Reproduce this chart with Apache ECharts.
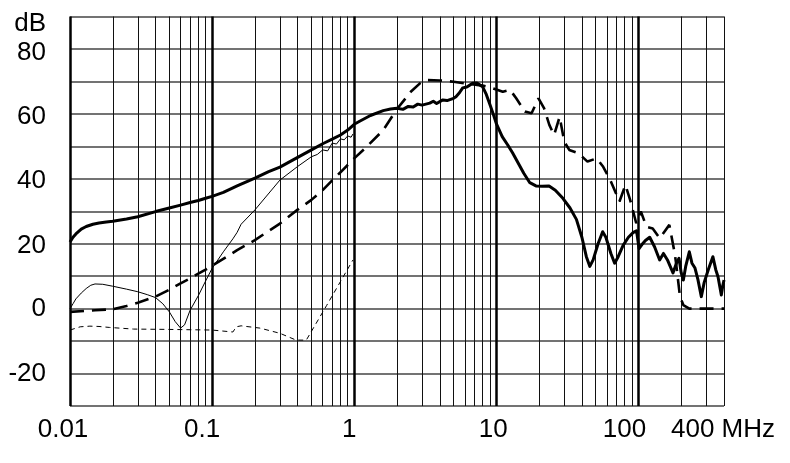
<!DOCTYPE html>
<html><head><meta charset="utf-8">
<script src="https://cdn.jsdelivr.net/npm/echarts@6/dist/echarts.min.js"></script>
<style>html,body{margin:0;padding:0;background:#fff}#c{width:790px;height:463px}</style>
</head><body><div id="c"></div>
<script>
// axis ranges (MHz, dB)
const xMin = 0.01, xMax = 400;
const yMin = -30, yMax = 90, yStep = 10;
const yLabelValues = [-20, 0, 20, 40, 60, 80];
const yUnitLabel = 'dB';
const xTickValues = [0.01, 0.1, 1, 10, 100, 400];
const xTickLabels = ['0.01', '0.1', '1', '10', '100', '400 MHz'];

// vertical grid positions (MHz)
const decadeLines = [0.01, 0.1, 1, 10, 100];
const minorLines = [0.02,0.03,0.04,0.05,0.06,0.07,0.08,0.09,
  0.2,0.3,0.4,0.5,0.6,0.7,0.8,0.9,
  2,3,4,5,6,7,8,9,
  20,30,40,50,60,70,80,90,
  200,300,400];

// thick solid curve [MHz, dB]
const thickSolid = [[0.01,20.5],[0.0105,22],[0.011,23],[0.012,24.5],[0.013,25.3],[0.0145,26],[0.016,26.4],[0.018,26.7],[0.02,26.9],[0.025,27.6],[0.03,28.3],[0.04,29.9],[0.05,31],[0.06,31.9],[0.07,32.7],[0.08,33.3],[0.09,34],[0.1,34.6],[0.12,35.8],[0.15,37.8],[0.2,40.2],[0.25,42.2],[0.3,43.6],[0.4,46.6],[0.5,48.9],[0.6,50.8],[0.7,52.2],[0.8,53.5],[0.9,55],[1.0,56.8],[1.1,57.8],[1.3,59.5],[1.6,61],[1.8,61.5],[2.0,61.7],[2.2,61.4],[2.4,62.3],[2.6,62.1],[2.8,63],[3.0,62.7],[3.4,63.3],[3.6,63.9],[3.8,63.2],[4.2,64.3],[4.5,64.1],[5.0,64.8],[5.2,65.3],[5.5,66.5],[5.8,68],[6.2,68.3],[6.8,69.4],[7.3,69.5],[8,68.4],[8.5,66],[9,63],[9.5,60],[10,57],[11,53],[12,50.5],[13,48],[15.6,41.7],[17.2,38.8],[19,37.8],[21,37.7],[23.5,37.8],[26,36.5],[29.4,34],[33,31],[36.6,27.5],[40,22],[43,16],[45.5,13],[48,15],[52,20],[56,23.7],[59,22],[64,17],[68,14],[72,16],[78,19.5],[85,22],[92,23.5],[97,24],[101,18.5],[107,20],[112,21],[120,22],[130,19],[141,15],[150,17],[160,15],[175,11],[185,14],[193,15.5],[200,11],[207,8.8],[215,13],[228,17.5],[238,14],[250,12.5],[262,9],[277,3.7],[290,8],[310,12],[334,16],[350,12],[363,9.8],[383,4.2],[392,7],[400,8.8]];

// thick dashed curve
const thickDashed = [[0.01,-1],[0.015,-0.5],[0.02,-0.2],[0.025,0.8],[0.03,1.8],[0.04,3.7],[0.05,5.8],[0.06,7.8],[0.07,9.3],[0.08,10.8],[0.09,12],[0.1,13.2],[0.15,18],[0.2,21.1],[0.3,26.2],[0.4,30.5],[0.5,33.5],[0.6,36.5],[0.7,39.5],[0.8,42],[1.0,46.3],[1.2,49.5],[1.6,55],[2.0,61.5],[2.5,66.8],[2.9,69.4],[3.2,70.4],[4,70.3],[5,69.9],[6.5,69.2],[8,68.7],[9,68.2],[10,67.5],[11.1,66.8],[12.5,67.4],[13.8,64.8],[15.9,60.7],[17.7,60.2],[19.8,64.8],[21.7,61.7],[23.6,56.6],[25.5,53.5],[27.9,59.1],[30.1,51.4],[32.6,48.9],[37.8,47.9],[43.8,45.3],[50.8,46.3],[56.5,43.7],[63.4,39.6],[73.5,33],[81,38.1],[87.4,33.5],[96.5,26.3],[104,29.9],[114,25.2],[126,24.7],[141,21.7],[165,25.8],[180,17],[184,14],[196,3.7],[207,1.1],[228,0],[400,0]];

// thin solid curve
const thinSolid = [[0.01,0],[0.0105,1.5],[0.011,3],[0.012,4.8],[0.013,6.2],[0.014,7.2],[0.015,7.6],[0.017,7.5],[0.02,6.9],[0.025,6],[0.03,5.2],[0.035,4.3],[0.04,3.4],[0.045,1.5],[0.05,-1],[0.055,-4],[0.06,-6],[0.064,-5],[0.07,-0.5],[0.08,4],[0.09,8.5],[0.1,12.4],[0.12,17.5],[0.14,21.5],[0.15,23.5],[0.16,26],[0.2,30.4],[0.3,39.6],[0.4,43.8],[0.5,46.8],[0.55,47.5],[0.6,48.9],[0.65,48.6],[0.7,51],[0.75,50.7],[0.8,52.3],[0.85,52],[0.9,53.2],[0.95,52.8],[0.98,53.8]];

// thin dashed curve
const thinDashed = [[0.01,-6.6],[0.0118,-5.6],[0.0138,-5.4],[0.016,-5.5],[0.019,-5.8],[0.028,-6.3],[0.048,-6.4],[0.1,-6.6],[0.14,-7.2],[0.148,-5.6],[0.16,-5.3],[0.217,-6],[0.3,-7.6],[0.39,-9.7],[0.46,-9.7],[0.64,1],[0.98,15]];

const font = '"Liberation Sans", Arial, sans-serif';
const fs = 26;
// small horizontal nudges of x tick labels (px to the left), as in the original artwork
const xNudge = [7, 10, 5, 3, 14, 1];
const xRich = {};
xNudge.forEach((s, i) => { xRich['x' + i] = {padding: [0, 2 * s, 0, 0], fontSize: fs, fontFamily: font, color: '#000'}; });
// vertical nudges of y labels (px downward)
const yNudgeVals = [90, 80, 60, 40, 20, 0, -20];
const yNudge = [7, 4, 3, 2, 2, 0, 0];
const yRich = {};
yNudge.forEach((s, i) => { yRich['y' + i] = {padding: [2 * s, 0, 0, 0], fontSize: fs, fontFamily: font, color: '#000'}; });

const gridData = decadeLines.map(v => ({xAxis: v, lineStyle: {width: 2.5, color: '#000', type: 'solid'}}))
  .concat(minorLines.map(v => ({xAxis: v, lineStyle: {width: 1, color: '#111', type: 'solid'}})));

function nearestIdx(arr, v) {
  let best = -1, bd = Infinity;
  arr.forEach((a, i) => { const d = Math.abs(Math.log10(a) - Math.log10(v)); if (d < bd) { bd = d; best = i; } });
  return bd < 0.01 ? best : -1;
}

const chart = echarts.init(document.getElementById('c'), null, {renderer: 'canvas'});
chart.setOption({
  animation: false,
  backgroundColor: '#fff',
  grid: {left: 70, right: 66, top: 16.5, bottom: 57, containLabel: false},
  xAxis: {
    type: 'log', logBase: 10, min: xMin, max: xMax,
    axisLine: {show: false}, axisTick: {show: false},
    splitLine: {show: false},
    axisLabel: {
      show: true, margin: 11, color: '#000', fontFamily: font, fontSize: fs,
      showMaxLabel: true, showMinLabel: true, rich: xRich,
      formatter: v => { const i = nearestIdx(xTickValues, v); return i < 0 ? '' : '{x' + i + '|' + xTickLabels[i] + '}'; }
    }
  },
  yAxis: {
    type: 'value', min: yMin, max: yMax, interval: yStep,
    axisLine: {show: false}, axisTick: {show: false},
    splitLine: {show: true, lineStyle: {color: '#444', width: 1.6}},
    axisLabel: {
      color: '#000', fontFamily: font, fontSize: fs, margin: 24, rich: yRich,
      formatter: v => {
        const i = yNudgeVals.indexOf(v);
        if (i < 0) return '';
        const txt = v === yMax ? yUnitLabel : (yLabelValues.indexOf(v) >= 0 ? String(v) : '');
        return txt ? '{y' + i + '|' + txt + '}' : '';
      }
    }
  },
  series: [
    {type: 'line', name: 'thinDashed', data: thinDashed, symbol: 'none', z: 3,
     lineStyle: {color: '#000', width: 1, type: [5, 4]},
     markLine: {silent: true, z: 1, symbol: ['none', 'none'], label: {show: false}, data: gridData, animation: false}},
    {type: 'line', name: 'thinSolid', data: thinSolid, symbol: 'none', z: 3,
     lineStyle: {color: '#000', width: 1}},
    {type: 'line', name: 'thickDashed', data: thickDashed, symbol: 'none', z: 4,
     lineStyle: {color: '#000', width: 2.6, type: [14, 8]}},
    {type: 'line', name: 'thickSolid', data: thickSolid, symbol: 'none', z: 5,
     lineStyle: {color: '#000', width: 3, join: 'round'}}
  ]
});
</script>
</body></html>
